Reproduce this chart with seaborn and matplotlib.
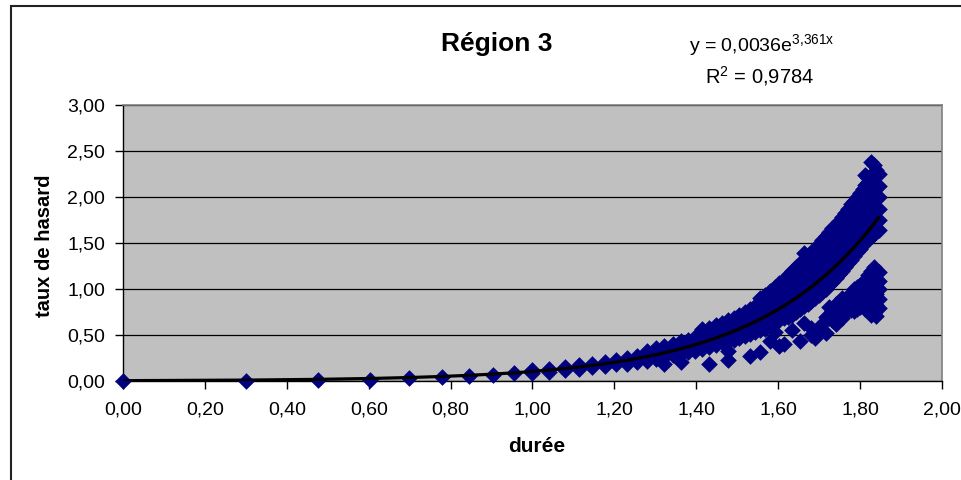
import matplotlib
matplotlib.use("Agg")
import matplotlib.pyplot as plt
from matplotlib.patches import Rectangle
from matplotlib.ticker import FuncFormatter
import numpy as np
import pandas as pd
import seaborn as sns

# durée (log) of each column of points, and the hazard rates read at that duration
duree = [0.000, 0.301, 0.477, 0.602, 0.699, 0.778, 0.845, 0.903, 0.954, 1.000,
         1.041, 1.079, 1.114, 1.146, 1.176, 1.204, 1.230, 1.255, 1.279, 1.301,
         1.322, 1.342, 1.362, 1.380, 1.398, 1.415, 1.431, 1.447, 1.462, 1.477,
         1.491, 1.505, 1.519, 1.531, 1.544, 1.556, 1.568, 1.580, 1.591, 1.602,
         1.613, 1.623, 1.633, 1.643, 1.653, 1.663, 1.672, 1.681, 1.690, 1.699,
         1.708, 1.716, 1.724, 1.732, 1.740, 1.748, 1.756, 1.763, 1.771, 1.778,
         1.785, 1.792, 1.799, 1.806, 1.813, 1.820, 1.826, 1.833, 1.839, 1.845]

taux = [
    [0.00], [0.005], [0.01], [0.015], [0.03], [0.045], [0.055], [0.07], [0.085],
    [0.09, 0.12],
    [0.10, 0.13],
    [0.12, 0.15],
    [0.13, 0.17],
    [0.15, 0.19],
    [0.16, 0.21],
    [0.18, 0.23],
    [0.19, 0.25],
    [0.21, 0.27],
    [0.22, 0.29, 0.33],
    [0.24, 0.30, 0.36],
    [0.19, 0.26, 0.32, 0.38],
    [0.28, 0.34, 0.40],
    [0.21, 0.29, 0.36, 0.43],
    [0.31, 0.38, 0.45],
    [0.33, 0.40, 0.48],
    [0.35, 0.42, 0.50, 0.56],
    [0.19, 0.37, 0.44, 0.52, 0.58],
    [0.39, 0.47, 0.55, 0.61],
    [0.42, 0.50, 0.57, 0.63],
    [0.23, 0.33, 0.44, 0.52, 0.60, 0.66],
    [0.45, 0.54, 0.62, 0.69],
    [0.47, 0.56, 0.64, 0.72],
    [0.49, 0.58, 0.67, 0.75],
    [0.27, 0.51, 0.60, 0.69, 0.78],
    [0.53, 0.62, 0.72, 0.82],
    [0.31, 0.55, 0.64, 0.74, 0.85, 0.90],
    [0.57, 0.67, 0.77, 0.88, 0.93],
    [0.44, 0.60, 0.70, 0.80, 0.91, 0.98],
    [0.53, 0.63, 0.72, 0.82, 0.92, 1.02],
    [0.38, 0.66, 0.75, 0.84, 0.93, 1.01, 1.06],
    [0.40, 0.68, 0.77, 0.86, 0.95, 1.04, 1.10],
    [0.70, 0.79, 0.89, 0.98, 1.07, 1.15],
    [0.55, 0.72, 0.82, 0.92, 1.01, 1.11, 1.20],
    [0.75, 0.85, 0.95, 1.05, 1.15, 1.24],
    [0.44, 0.78, 0.88, 0.98, 1.08, 1.18, 1.28],
    [0.63, 0.81, 0.91, 1.01, 1.11, 1.21, 1.31, 1.39],
    [0.84, 0.94, 1.04, 1.14, 1.25, 1.35],
    [0.50, 0.58, 0.87, 0.97, 1.08, 1.18, 1.29, 1.40],
    [0.47, 0.90, 1.00, 1.11, 1.22, 1.33, 1.44],
    [0.58, 0.94, 1.04, 1.15, 1.26, 1.37, 1.49],
    [0.62, 0.97, 1.08, 1.19, 1.30, 1.41, 1.53],
    [0.52, 0.70, 1.00, 1.11, 1.22, 1.34, 1.46, 1.58],
    [0.68, 0.80, 1.04, 1.15, 1.26, 1.38, 1.50, 1.62],
    [0.66, 0.76, 1.08, 1.19, 1.30, 1.42, 1.54, 1.66],
    [0.62, 0.73, 0.84, 1.12, 1.23, 1.35, 1.47, 1.59, 1.70],
    [0.73, 0.84, 1.16, 1.27, 1.39, 1.51, 1.63, 1.74],
    [0.69, 0.80, 0.90, 1.20, 1.31, 1.43, 1.55, 1.67, 1.78],
    [0.75, 0.88, 1.24, 1.35, 1.47, 1.59, 1.71, 1.83],
    [0.77, 0.91, 1.28, 1.39, 1.51, 1.63, 1.75, 1.87],
    [0.77, 0.86, 0.96, 1.32, 1.43, 1.55, 1.67, 1.79, 1.92],
    [0.76, 0.88, 1.00, 1.36, 1.47, 1.59, 1.71, 1.84, 1.96],
    [0.78, 0.90, 1.02, 1.40, 1.51, 1.63, 1.75, 1.88, 2.00],
    [0.80, 0.92, 1.04, 1.44, 1.55, 1.67, 1.79, 1.92, 2.04],
    [0.82, 0.94, 1.06, 1.48, 1.59, 1.71, 1.83, 1.96, 2.09],
    [0.78, 0.90, 1.02, 1.10, 1.51, 1.62, 1.74, 1.87, 2.00, 2.13, 2.24],
    [0.79, 0.92, 1.04, 1.15, 1.54, 1.65, 1.77, 1.90, 2.03, 2.16, 2.21],
    [0.72, 0.84, 0.96, 1.08, 1.20, 1.57, 1.68, 1.80, 1.93, 2.06, 2.19, 2.38],
    [0.74, 0.86, 0.98, 1.10, 1.24, 1.60, 1.71, 1.83, 1.96, 2.09, 2.22, 2.35],
    [0.71, 0.83, 0.95, 1.07, 1.17, 1.62, 1.73, 1.85, 1.98, 2.11, 2.24, 2.29],
    [0.79, 0.89, 1.00, 1.09, 1.18, 1.64, 1.75, 1.87, 2.00, 2.12, 2.25],
]

# exponential trendline as printed on the chart
coef_a = 0.0036
coef_b = 3.361
r2 = 0.9784

x_ticks = [0.0, 0.2, 0.4, 0.6, 0.8, 1.0, 1.2, 1.4, 1.6, 1.8, 2.0]
y_ticks = [0.0, 0.5, 1.0, 1.5, 2.0, 2.5, 3.0]

df = pd.DataFrame([(x, y) for x, ys in zip(duree, taux) for y in ys],
                  columns=["durée", "taux"])
trend = pd.DataFrame({"durée": duree,
                      "taux": coef_a * np.exp(coef_b * np.array(duree))})

plt.rcParams["font.family"] = ["Liberation Sans", "DejaVu Sans"]

W, H = 962, 480
fig = plt.figure(figsize=(W / 100, H / 100), dpi=100)
ax = fig.add_axes([123 / W, 1 - 381 / H, (942 - 123) / W, (381 - 105) / H])
ax.set_facecolor("#c0c0c0")

sns.scatterplot(data=df, x="durée", y="taux", marker="D", color="#000080",
                edgecolor="#000080", linewidth=0, s=72, ax=ax, legend=False,
                clip_on=False, zorder=3)
sns.lineplot(data=trend, x="durée", y="taux", color="black", linewidth=2.3,
             ax=ax, errorbar=None, zorder=4)

ax.set_xlim(0, 2)
ax.set_ylim(0, 3)
ax.set_xticks(x_ticks)
ax.set_yticks(y_ticks)
fmt = FuncFormatter(lambda v, p: f"{v:.2f}".replace(".", ","))
ax.xaxis.set_major_formatter(fmt)
ax.yaxis.set_major_formatter(fmt)
ax.tick_params(direction="out", length=6, width=1, color="black",
               labelsize=14, labelcolor="black")
ax.tick_params(axis="y", pad=7)
ax.tick_params(axis="x", pad=9)

ax.set_axisbelow(True)
ax.yaxis.grid(True, color="black", linewidth=0.9)
ax.xaxis.grid(False)
for side in ["top", "right"]:
    ax.spines[side].set_color("#808080")
    ax.spines[side].set_linewidth(1.2)
for side in ["left", "bottom"]:
    ax.spines[side].set_color("black")
    ax.spines[side].set_linewidth(1)
ax.set_xlabel("")
ax.set_ylabel("")

fig.text(497 / W, 1 - 44 / H, "Région 3", ha="center", va="center",
         fontsize=19, fontweight="bold")
fig.text(762 / W, 1 - 46 / H,
         r"y = 0,0036e$^{\mathregular{3{,}361x}}$",
         ha="center", va="center", fontsize=14)
fig.text(760 / W, 1 - 76 / H, r"R$^{\mathregular{2}}$ = " + f"{r2:.4f}".replace(".", ","),
         ha="center", va="center", fontsize=14.5)
fig.text(45 / W, 1 - 246 / H, "taux de hasard", rotation=90, ha="center",
         va="center", fontsize=14.5, fontweight="bold")
fig.text(537 / W, 1 - 447 / H, "durée", ha="center", va="center",
         fontsize=15, fontweight="bold")

# outer chart border (runs off the right and bottom edges)
fig.patches.append(Rectangle((11 / W, -0.1), 1.2, 1.1 - 6 / H, fill=False,
                             edgecolor="#222222", linewidth=1.5,
                             transform=fig.transFigure))

fig.savefig("out.png", dpi=100)
